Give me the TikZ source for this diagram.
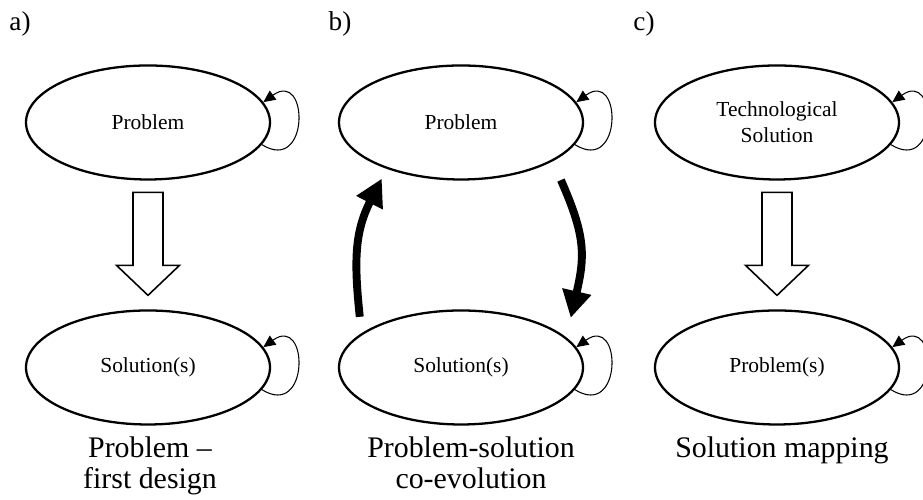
\documentclass[tikz,border=0pt]{standalone}
\usepackage{fontspec}
\setmainfont{Liberation Serif}
\usetikzlibrary{arrows.meta,calc,shapes.geometric}
\begin{document}
\begin{tikzpicture}[line join=round,line cap=round,
	oval/.style={draw,ellipse,line width=1.3pt,minimum width=4.88cm,minimum height=2.28cm,inner sep=0pt,align=center,font=\fontsize{12.2}{14.8}\selectfont},
	selfloop/.style={line width=0.6pt,-{Triangle[length=2.4mm,width=2.2mm]},out=-32,in=36,looseness=3.4},
	hollow/.style={draw,line width=0.9pt,line join=miter},
	fat/.style={line width=4.5pt,line cap=butt,-{Triangle[length=5.4mm,width=5.6mm]}},
	caption/.style={anchor=base,align=center,inner sep=0pt,font=\fontsize{17}{18}\selectfont},
	tag/.style={inner sep=0pt,font=\fontsize{15.5}{18}\selectfont}]
	\useasboundingbox (0,0) rectangle (18.46,10);
	\path 
	(2.96,7.55) node[oval] (a1) {Problem}
	(2.96,2.65) node[oval] (a2) {Solution(s)}
	(9.22,7.55) node[oval] (b1) {Problem}
	(9.22,2.65) node[oval] (b2) {Solution(s)}
	(15.54,7.55) node[oval] (c1) {Technological\\Solution}
	(15.54,2.65) node[oval] (c2) {Problem(s)}
	;
	\foreach \x in {a1,a2,b1,b2,c1,c2}{
		\draw[selfloop] (\x.-11) to (\x.10);
	};
	\foreach \x in {a,c}{
		\draw[hollow] ($(\x2.north)+(0,0.28)$) coordinate (tip\x) -- ++(-0.63,0.6) -- ++(0.33,0) -- ++(0,1.46) -- ++(0.6,0) -- ++(0,-1.46) -- ++(0.33,0) -- cycle;
	};
	\draw[fat,shorten <=0.33cm,shorten >=0.22cm] (b2.161) to[out=96,in=243,looseness=1.1] (b1.212);
	\draw[fat,shorten <=0.41cm,shorten >=0.4cm] (b1.-23) to[out=-66,in=77,looseness=1.2] (b2.16);
	\foreach \x/\p in {a/0.4,b/6.8,c/12.88}{
		\node[tag] (lab\x) at (\p,9.52) {\x)};
	};
	\node[caption] (tita) at (3.0,0.22) {Problem –\\first design};
	\node[caption] (titb) at (9.42,0.22) {Problem-solution\\co-evolution};
	\node[caption] (titc) at (15.64,0.84) {Solution mapping};
\end{tikzpicture}
\end{document}
